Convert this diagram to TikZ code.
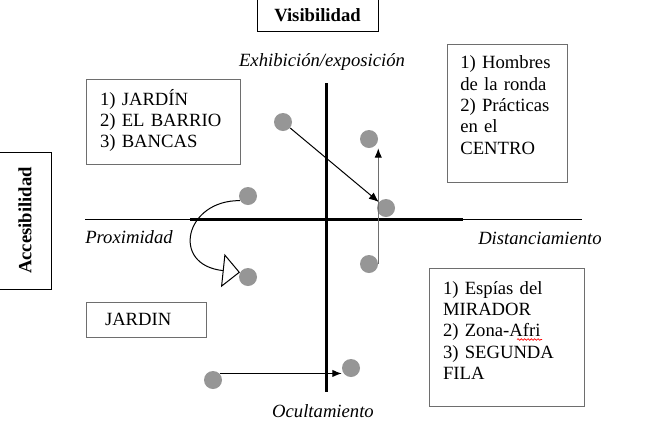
\documentclass[tikz,border=0pt]{standalone}
\usepackage{fontspec}
\setmainfont{Liberation Serif}
\usetikzlibrary{graphs}
\usetikzlibrary{arrows.meta}
\usetikzlibrary{decorations.pathmorphing}

\definecolor{dotgray}{RGB}{150,150,150}
\definecolor{boxgray}{RGB}{110,110,110}
% extra room below the last line of a list
\newcommand{\lowgap}[1]{\rule[-#1]{0pt}{0pt}}

\begin{document}
\begin{tikzpicture}[x=0.75pt, y=-0.75pt,
        font=\fontsize{14}{16}\selectfont,
        dot/.style={circle, fill=dotgray, minimum size=13.5pt, inner sep=0pt},
        listbox/.style={draw=boxgray, line width=0.6pt, align=left, inner xsep=10.5pt, inner ysep=0pt},
        titlebox/.style={draw, line width=0.6pt, font=\fontsize{14}{16}\selectfont\bfseries, inner sep=0pt},
        pole/.style={font=\fontsize{14}{16}\selectfont\itshape, inner sep=0pt}]
    \useasboundingbox (0,0) rectangle (650,444);

    % axes
    \draw[line width=0.75pt] (85,219) -- (582,219);
    \draw[line width=2.25pt] (190,219) -- (463,219);
    \draw[line width=2.25pt] (326,83) -- (326,392);

    \node[titlebox, minimum width=90.75pt, minimum height=24pt] (vis) at (317.5,15) {Visibilidad};
    \node[titlebox, rotate=90, minimum width=102.75pt, minimum height=39pt] (acc) at (25,220.5) {Accesibilidad};

    \node[pole] (exh) at (322,62) {Exhibición/exposición};
    \node[pole, anchor=west] (prox) at (85,237) {Proximidad};
    \node[pole, anchor=west] (dist) at (478,238) {Distanciamiento};
    \node[pole] (ocu) at (323,411) {Ocultamiento};

    \node[listbox, text width=94.5pt, minimum height=63.75pt] (lista) at (163,121.5)
        {1) JARDÍN\\2) EL BARRIO\\3) BANCAS\lowgap{4.5pt}};
    \node[listbox, inner xsep=10pt, text width=70pt, minimum height=103.5pt] (listb) at (507,113)
        {1) Hombres\\de la ronda\\2) Prácticas\\en el\\CENTRO\lowgap{12pt}};
    \node[listbox, text width=95.25pt, minimum height=103.5pt] (listc) at (506.5,337)
        {1) Espías del\\MIRADOR\\2) Zona-Afri\\3) SEGUNDA\\FILA\lowgap{10pt}};
    \node[listbox, inner xsep=14.25pt, text width=61.5pt, minimum height=26.25pt] (jardin) at (146,319.5)
        {JARDIN};
    % spelling mark
    \draw[red, line width=0.5pt, decorate, decoration={snake, amplitude=0.6pt, segment length=2.5pt}]
        (517,339.5) -- (542,339.5);

    % positions
    \node[dot] (a) at (283,122) {};
    \node[dot] (b) at (369,139) {};
    \node[dot] (c) at (386,208) {};
    \node[dot] (d) at (248,196) {};
    \node[dot] (e) at (248,277) {};
    \node[dot] (f) at (369,264) {};
    \node[dot] (g) at (213,380) {};
    \node[dot] (h) at (351,368) {};

    \graph[edges={-{Latex[length=7.5pt,width=6pt]}, line width=0.75pt}] {
        (a) -- (c);
    };
    \draw[boxgray, line width=0.75pt, -{Latex[length=7pt,width=5.5pt,black]}] (f.east) -- (f.east |- b.south);
    \draw[line width=0.75pt, -{Latex[length=7pt,width=5.5pt]}] (g.north east) -- (g.north east -| h.west);
    \draw[line width=0.75pt, -{Triangle[open, length=13pt, width=25pt]}]
        (d.210) .. controls (185,200) and (170,265) .. (e.150);
\end{tikzpicture}
\end{document}
